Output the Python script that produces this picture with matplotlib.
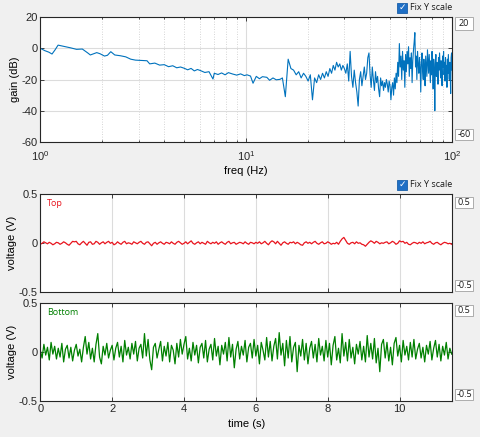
import numpy as np
import matplotlib
matplotlib.use("Agg")
import matplotlib.pyplot as plt
from matplotlib.patches import Rectangle

plt.rcParams["font.family"] = ["Liberation Sans", "DejaVu Sans"]
plt.rcParams["axes.unicode_minus"] = False

# ---------- data ----------
freq_lo = [1.0, 1.05, 1.1, 1.14, 1.18, 1.22, 1.3, 1.4, 1.5, 1.6, 1.7, 1.75, 1.82, 1.88, 1.95,
           2.05, 2.12, 2.2, 2.3, 2.45, 2.6, 2.75, 2.9, 3.1, 3.3, 3.4, 3.6, 3.8, 4.0, 4.2,
           4.4, 4.6, 4.8, 5.0, 5.2, 5.4, 5.6, 5.8, 6.0, 6.3, 6.6, 6.9, 7.0, 7.3, 7.6,
           7.9, 8.2, 8.6, 9.0, 9.4, 9.8, 10.1, 10.5, 10.8, 11.2, 11.6, 12.0, 12.6, 13.0, 13.5,
           14.0, 14.6]
gain_lo = [0, -1.5, -2.5, -3.7, -1, 2, 1.2, 0.3, -0.7, -0.5, -3, -4.3, -3.5, -2.8, -3.5,
           -5, -4.5, -2.2, -4.3, -4.8, -5.5, -7, -7.6, -7.8, -8, -10, -9.5, -10.8, -10.5, -11.8,
           -11.2, -12.5, -12, -12.8, -13.8, -12.9, -14.5, -13.6, -14.3, -15.5, -15, -19.7, -16, -16.8, -15.8,
           -17, -15.6, -16.5, -17.2, -16.4, -17.5, -17, -17.8, -22.4, -18, -19.5, -18.2, -18.6, -20.5, -19,
           -20.2, -19.9]
# 15 Hz .. 100 Hz in 0.5 Hz bins
gain_hi = [-19, -31, -7, -13, -14, -17, -15, -19, -16, -18,
           -21, -17, -33, -19, -22, -17, -20, -16, -19, -15,
           -18, -13, -16, -11, -14, -9, -12, -10, -14, -11,
           -13, -16, -10, -21, -2, -18, -25, -14, -22, -28,
           -37, -20, -15, -24, -18, -12, -20, -16, -6, -3,
           -17, -25, -12, -20, -27, -15, -22, -18, -26, -31,
           -19, -24, -21, -27, -22, -25, -20, -23, -28, -21,
           -24, -33, -25, -22, -30, -19, -26, -16, -22, -9,
           -18, 3, -12, -5, -20, -2, -14, -8, -25, -4,
           -15, -2, -10, 1, -18, -6, -13, -3, -22, -8,
           -1, 4, 10, -12, -5, -20, -2, -10, -16, -6,
           -12, -28, -9, -3, -15, -20, -7, -14, -24, -5,
           -11, -18, -1, -9, -16, -4, -13, -22, -8, -17,
           -2, -12, -26, -7, -15, -40, -10, -4, -18, -9,
           -13, -23, -6, -14, -3, -11, -19, -8, -15, -24,
           -5, -12, -2, -17, -9, -21, -6, -14, -11, -25,
           -7, -16, -4, -13, -20, -9, -15, -29, -6, -3,
           -14]
freq_hi = 15.0 + 0.5 * np.arange(len(gain_hi))

dt = 0.05
v_top = [-0.01, 0.0, 0.015, 0.005, -0.005, 0.01, 0.0, -0.015, -0.005, 0.01,
         0.005, -0.01, 0.0, 0.015, 0.005, -0.01, -0.02, 0.0, 0.02, 0.015,
         0.02, -0.005, -0.015, 0.005, 0.02, 0.0, -0.02, 0.01, 0.015, -0.01,
         -0.005, 0.02, 0.01, -0.01, 0.005, 0.015, -0.005, 0.01, 0.02, 0.0,
         0.01, -0.015, -0.005, 0.015, 0.0, -0.01, 0.01, 0.02, -0.005, 0.005,
         0.0, -0.01, 0.015, 0.005, -0.005, 0.01, 0.02, 0.0, -0.01, 0.01,
         0.015, -0.005, -0.025, 0.0, 0.01, -0.01, 0.005, 0.015, 0.0, -0.01,
         0.01, 0.005, -0.005, 0.015, 0.0, -0.01, 0.01, 0.02, 0.005, -0.01,
         0.0, 0.015, -0.005, 0.01, 0.025, 0.0, -0.01, 0.005, 0.015, -0.005,
         0.01, 0.0, -0.01, 0.02, 0.005, -0.005, 0.01, 0.0, 0.015, -0.01,
         0.005, 0.015, 0.0, -0.01, 0.01, 0.02, -0.005, 0.005, 0.01, -0.01,
         0.0, 0.01, 0.005, -0.005, 0.015, 0.0, -0.01, 0.01, 0.005, -0.005,
         0.01, 0.0, 0.015, -0.005, 0.005, 0.02, 0.0, -0.015, 0.01, 0.025,
         0.015, -0.005, 0.02, 0.0, -0.02, 0.005, 0.015, 0.0, -0.01, 0.01,
         0.005, 0.015, -0.005, 0.01, 0.0, -0.015, -0.02, 0.005, 0.015, 0.0,
         0.01, -0.005, 0.01, 0.02, 0.0, -0.01, 0.005, 0.015, -0.005, 0.0,
         0.015, 0.005, -0.01, 0.0, -0.005, 0.01, -0.01, 0.02, 0.045, 0.06,
         0.03, 0.0, -0.01, 0.005, 0.01, -0.005, 0.015, 0.0, 0.005, -0.01,
         -0.015, -0.03, -0.01, 0.01, 0.025, 0.015, 0.0, 0.02, 0.01, -0.005,
         0.005, 0.0, 0.01, 0.015, -0.005, 0.005, 0.02, 0.01, -0.01, 0.0,
         0.025, 0.015, 0.02, 0.0, 0.01, -0.01, -0.015, 0.0, 0.01, 0.005,
         -0.005, 0.01, 0.0, 0.015, -0.005, 0.005, 0.01, 0.02, 0.0, -0.01,
         0.005, 0.01, -0.005, -0.015, 0.0, 0.01, 0.005, -0.005, 0.0, -0.01]
v_bot = [0.02, -0.06, 0.08, -0.03, 0.05, -0.08, 0.1, -0.02, 0.06, -0.07,
         0.04, -0.05, 0.09, -0.1, 0.03, 0.07, -0.06, 0.05, -0.09, 0.02,
         0.08, -0.04, 0.03, -0.1, 0.05, 0.16, -0.02, 0.1, -0.07, 0.04,
         -0.1, 0.08, 0.19, -0.05, -0.12, 0.06, -0.03, 0.09, -0.06, 0.02,
         0.07, -0.08, 0.04, 0.1, -0.05, 0.06, -0.1, 0.12, -0.03, 0.05,
         -0.07, 0.09, -0.02, 0.11, -0.09, 0.04, 0.08, -0.06, 0.19, -0.04,
         0.13, -0.08, -0.18, 0.05, 0.09, -0.06, 0.03, 0.11, -0.09, 0.06,
         -0.04, 0.1, -0.1, 0.07, 0.02, -0.12, 0.09, -0.05, 0.13, -0.02,
         0.08, 0.16, -0.07, 0.04, -0.09, 0.1, -0.03, 0.07, -0.11, 0.05,
         0.09, -0.06, 0.12, -0.1, 0.03, 0.08, -0.08, 0.14, -0.04, 0.06,
         -0.13, 0.07, -0.02, 0.1, -0.09, 0.15, -0.05, 0.08, -0.16, 0.03,
         0.11, -0.07, 0.06, -0.03, 0.12, -0.1, 0.05, 0.09, -0.06, 0.13,
         -0.04, 0.07, -0.12, 0.1, 0.02, -0.08, 0.15, -0.05, 0.11, -0.09,
         0.06, 0.14, -0.07, 0.2, -0.03, 0.09, -0.14, 0.12, -0.06, 0.16,
         -0.1, 0.05, 0.1, -0.2, 0.07, -0.04, 0.13, -0.08, 0.09, -0.12,
         0.04, 0.11, -0.06, 0.08, -0.1, 0.14, -0.03, 0.06, -0.09, 0.12,
         -0.05, 0.09, -0.13, 0.07, 0.16, -0.08, 0.04, -0.11, 0.19, -0.04,
         0.1, -0.09, 0.13, -0.06, 0.05, -0.12, 0.08, -0.02, 0.11, -0.08,
         0.06, -0.1, 0.17, -0.05, 0.09, -0.07, 0.14, -0.11, 0.04, -0.2,
         0.08, 0.13, -0.06, 0.1, -0.09, 0.05, -0.13, 0.09, 0.15, -0.04,
         0.07, -0.1, 0.12, -0.03, 0.06, -0.08, 0.1, -0.05, 0.13, -0.07,
         0.03, 0.09, -0.06, 0.05, -0.1, 0.07, -0.02, 0.11, -0.08, 0.04,
         0.12, -0.05, 0.08, -0.09, 0.06, -0.03, 0.1, -0.07, 0.04, -0.02]
t_top = dt * np.arange(len(v_top))
t_bot = dt * np.arange(len(v_bot))
t_max = 11.46

gain_ticks = [20, 0, -20, -40, -60]
volt_ticks = [0.5, 0, -0.5]
time_ticks = [0, 2, 4, 6, 8, 10]

BLUE = "#0072bd"; RED = "#e8141e"; GREEN = "#008000"
BG = "#f0f0f0"; SPINE = "#262626"; GRID = "#dcdcdc"

W, H = 481, 437
fig = plt.figure(figsize=(W / 100, H / 100), dpi=100, facecolor=BG)

def rect(x0, y0, x1, y1):
    # pixel box (top-left origin) -> figure fractions
    return [x0 / W, 1 - y1 / H, (x1 - x0) / W, (y1 - y0) / H]

def style(ax):
    ax.set_facecolor("white")
    for s in ax.spines.values():
        s.set_color(SPINE); s.set_linewidth(0.8)
    ax.tick_params(direction="in", top=True, right=True, length=3, width=0.6,
                   colors=SPINE, labelsize=8, pad=2)
    ax.tick_params(which="minor", direction="in", top=True, length=1.5, width=0.5)
    ax.set_axisbelow(True)

# ---------- spectrum ----------
ax1 = fig.add_axes(rect(40.3, 17, 452, 142))
style(ax1)
ax1.semilogx(np.concatenate([freq_lo, freq_hi]), np.concatenate([gain_lo, gain_hi]),
             color=BLUE, lw=0.8)
ax1.set_xlim(1, 100); ax1.set_ylim(-60, 20)
ax1.set_yticks(gain_ticks)
ax1.tick_params(axis="x", pad=5)
ax1.grid(True, which="major", color=GRID, lw=0.8)
ax1.grid(True, which="minor", axis="x", color="#c8c8c8", lw=0.6, ls=(0, (1, 2)))
ax1.set_xlabel("freq (Hz)", fontsize=8, labelpad=2)
ax1.set_ylabel("gain (dB)", fontsize=8, labelpad=1)

# ---------- time traces ----------
ax2 = fig.add_axes(rect(40.3, 194.3, 452, 292.3))
ax3 = fig.add_axes(rect(40.3, 303.3, 452, 401))
for ax, t, v, c, name in [(ax2, t_top, v_top, RED, "Top"), (ax3, t_bot, v_bot, GREEN, "Bottom")]:
    style(ax)
    ax.plot(t, v, color=c, lw=0.9)
    ax.set_xlim(0, t_max); ax.set_ylim(-0.5, 0.5)
    ax.set_xticks(time_ticks); ax.set_yticks(volt_ticks)
    ax.yaxis.set_major_formatter(matplotlib.ticker.FuncFormatter(lambda y, p: f"{y:g}"))
    ax.grid(True, axis="x", color=GRID, lw=0.8)
    ax.set_ylabel("voltage (V)", fontsize=8, labelpad=1)
    ax.text(0.017, 0.91, name, transform=ax.transAxes, color=c, fontsize=6.5,
            ha="left", va="center", family=["Open Sans", "DejaVu Sans"])
ax2.tick_params(labelbottom=False)
ax3.set_xlabel("time (s)", fontsize=8, labelpad=4)

# ---------- widgets: checkboxes and limit boxes ----------
ui_font = ["Open Sans", "DejaVu Sans"]
for cy in [7.7, 184.7]:
    fig.patches.append(Rectangle((397.3 / W, 1 - (cy + 5) / H), 10 / W, 10 / H,
                                 transform=fig.transFigure, facecolor="#1f6fc5",
                                 edgecolor="#1a5fa8", lw=0.6))
    fig.text(402.3 / W, 1 - cy / H, "\u2713", color="white", fontsize=6.5,
             ha="center", va="center", family="DejaVu Sans", weight="bold")
    fig.text(410 / W, 1 - cy / H, "Fix Y scale", fontsize=6.5, ha="left", va="center",
             family=ui_font, color="#1a1a1a")

boxes = [(17.3, 29.5, "20"), (129, 140, "-60"),
         (196.7, 208, "0.5"), (280, 290.7, "-0.5"),
         (305, 316, "0.5"), (389, 400, "-0.5")]
for y0, y1, lab in boxes:
    fig.patches.append(Rectangle((455 / W, 1 - y1 / H), 18 / W, (y1 - y0) / H,
                                 transform=fig.transFigure, facecolor="white",
                                 edgecolor="#a0a0a0", lw=0.6))
    fig.text(464 / W, 1 - (y0 + y1) / 2 / H, lab, fontsize=6.5, ha="center", va="center",
             family=ui_font, color="#1a1a1a")

fig.savefig("out.png", dpi=100, facecolor=BG)
